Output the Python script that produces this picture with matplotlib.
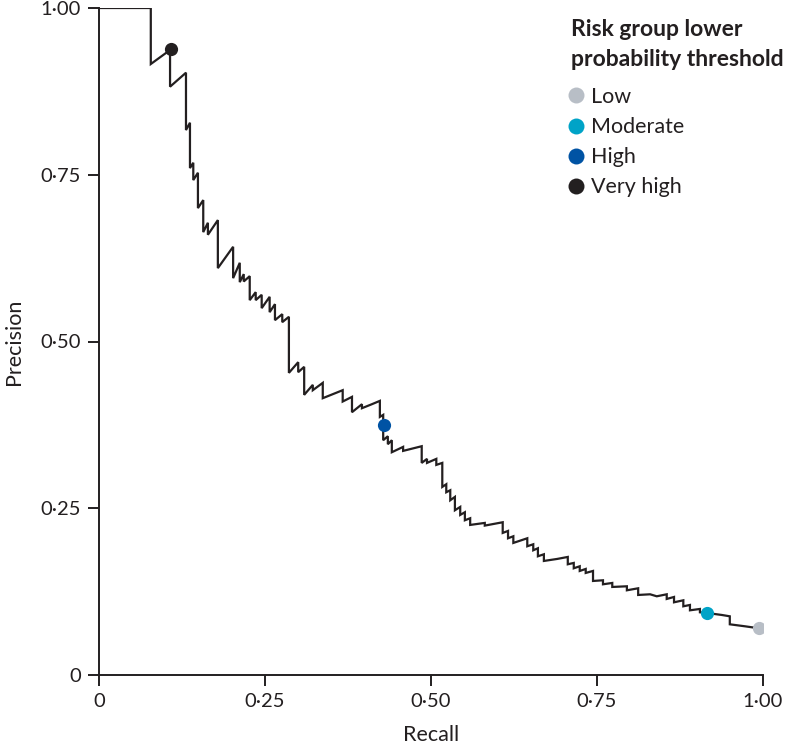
import matplotlib
matplotlib.use("Agg")
import matplotlib.pyplot as plt
from matplotlib.lines import Line2D

plt.rcParams['font.family'] = ['Lato', 'DejaVu Sans']

# Precision-recall curve vertices
recall = [0.000, 0.078, 0.078, 0.107, 0.107, 0.131, 0.131, 0.137, 0.137, 0.142,
          0.142, 0.149, 0.149, 0.157, 0.157, 0.164, 0.164, 0.179, 0.179, 0.202,
          0.202, 0.212, 0.212, 0.218, 0.218, 0.227, 0.227, 0.236, 0.236, 0.245,
          0.245, 0.257, 0.257, 0.265, 0.265, 0.276, 0.276, 0.286, 0.286, 0.300,
          0.300, 0.309, 0.309, 0.322, 0.322, 0.337, 0.337, 0.367, 0.367, 0.381,
          0.381, 0.396, 0.396, 0.411, 0.423, 0.423, 0.428, 0.428, 0.435, 0.435,
          0.441, 0.441, 0.458, 0.458, 0.486, 0.486, 0.494, 0.494, 0.508, 0.508,
          0.517, 0.517, 0.523, 0.523, 0.529, 0.529, 0.536, 0.536, 0.544, 0.544,
          0.551, 0.551, 0.559, 0.559, 0.581, 0.581, 0.608, 0.608, 0.616, 0.616,
          0.624, 0.624, 0.645, 0.645, 0.654, 0.654, 0.661, 0.661, 0.670, 0.670,
          0.690, 0.706, 0.706, 0.715, 0.715, 0.724, 0.724, 0.733, 0.733, 0.744,
          0.744, 0.759, 0.759, 0.773, 0.773, 0.795, 0.795, 0.812, 0.812, 0.830,
          0.840, 0.855, 0.855, 0.866, 0.866, 0.880, 0.880, 0.890, 0.890, 0.905,
          0.905, 0.923, 0.938, 0.950, 0.950, 0.973, 0.994]
precision = [1.000, 1.000, 0.916, 0.937, 0.882, 0.903, 0.817, 0.828, 0.760, 0.768,
             0.742, 0.753, 0.700, 0.712, 0.664, 0.678, 0.660, 0.682, 0.610, 0.642,
             0.595, 0.618, 0.589, 0.601, 0.590, 0.598, 0.562, 0.574, 0.562, 0.570,
             0.550, 0.567, 0.544, 0.556, 0.532, 0.541, 0.529, 0.537, 0.453, 0.469,
             0.454, 0.462, 0.420, 0.435, 0.427, 0.438, 0.415, 0.427, 0.410, 0.417,
             0.394, 0.406, 0.400, 0.406, 0.411, 0.387, 0.390, 0.352, 0.358, 0.346,
             0.352, 0.334, 0.342, 0.336, 0.343, 0.318, 0.324, 0.318, 0.324, 0.315,
             0.318, 0.282, 0.286, 0.274, 0.277, 0.262, 0.267, 0.247, 0.252, 0.240,
             0.244, 0.232, 0.235, 0.225, 0.228, 0.224, 0.229, 0.213, 0.216, 0.205,
             0.208, 0.198, 0.205, 0.193, 0.196, 0.187, 0.190, 0.178, 0.181, 0.171,
             0.174, 0.177, 0.166, 0.168, 0.160, 0.163, 0.156, 0.159, 0.153, 0.156,
             0.141, 0.142, 0.136, 0.138, 0.132, 0.133, 0.127, 0.130, 0.120, 0.121,
             0.118, 0.121, 0.114, 0.117, 0.109, 0.112, 0.103, 0.105, 0.097, 0.099,
             0.094, 0.092, 0.090, 0.088, 0.076, 0.073, 0.070]

# Risk group threshold points
groups = ["Low", "Moderate", "High", "Very high"]
group_recall = [0.994, 0.916, 0.429, 0.108]
group_precision = [0.070, 0.093, 0.375, 0.938]
group_colors = ["#b8bec6", "#00a3c7", "#0053a4", "#231f20"]
legend_title = "Risk group lower\nprobability threshold"

ticks = [0, 0.25, 0.50, 0.75, 1.00]
tick_labels = ["0", "0·25", "0·50", "0·75", "1·00"]

fig = plt.figure(figsize=(7.86, 7.48), dpi=100)
ax = fig.add_axes([99/786, 73/748, 664/786, 667/748])

ax.plot(recall, precision, color="#231f20", lw=1.6, solid_joinstyle="miter", zorder=2)
for r, p, c in zip(group_recall, group_precision, group_colors):
    ax.plot([r], [p], "o", color=c, ms=9.5, mec="none", zorder=3)

ax.set_xlim(0, 1.0)
ax.set_ylim(0, 1.0)
ax.set_xticks(ticks)
ax.set_xticklabels(tick_labels)
ax.set_yticks(ticks)
ax.set_yticklabels(tick_labels)
for s in ["top", "right"]:
    ax.spines[s].set_visible(False)
for s in ["left", "bottom"]:
    ax.spines[s].set_color("#231f20")
    ax.spines[s].set_linewidth(1.4)
ax.tick_params(direction="out", length=8, width=1.4, color="#231f20",
               labelsize=14.5, labelcolor="#231f20", pad=5)
ax.set_xlabel("Recall", fontsize=15.5, color="#231f20", labelpad=11)
ax.set_ylabel("Precision", fontsize=15.5, color="#231f20", labelpad=12)

# legend title as text, legend entries below
fig.text(571/786, 1 - 19/748, legend_title, ha="left", va="top",
         fontsize=16.5, fontweight="bold", color="#231f20", linespacing=1.55)

handles = [Line2D([], [], marker="o", ls="none", color=c, ms=11.5, mec="none")
           for c in group_colors]
leg = ax.legend(handles, groups,
                loc="upper left", bbox_to_anchor=(0.7045, 0.8816), frameon=False,
                fontsize=15.5, handletextpad=0.22, handlelength=0.9,
                labelspacing=0.47, borderaxespad=0, borderpad=0)
for t in leg.get_texts():
    t.set_color("#231f20")

fig.savefig("out.png", dpi=100)
